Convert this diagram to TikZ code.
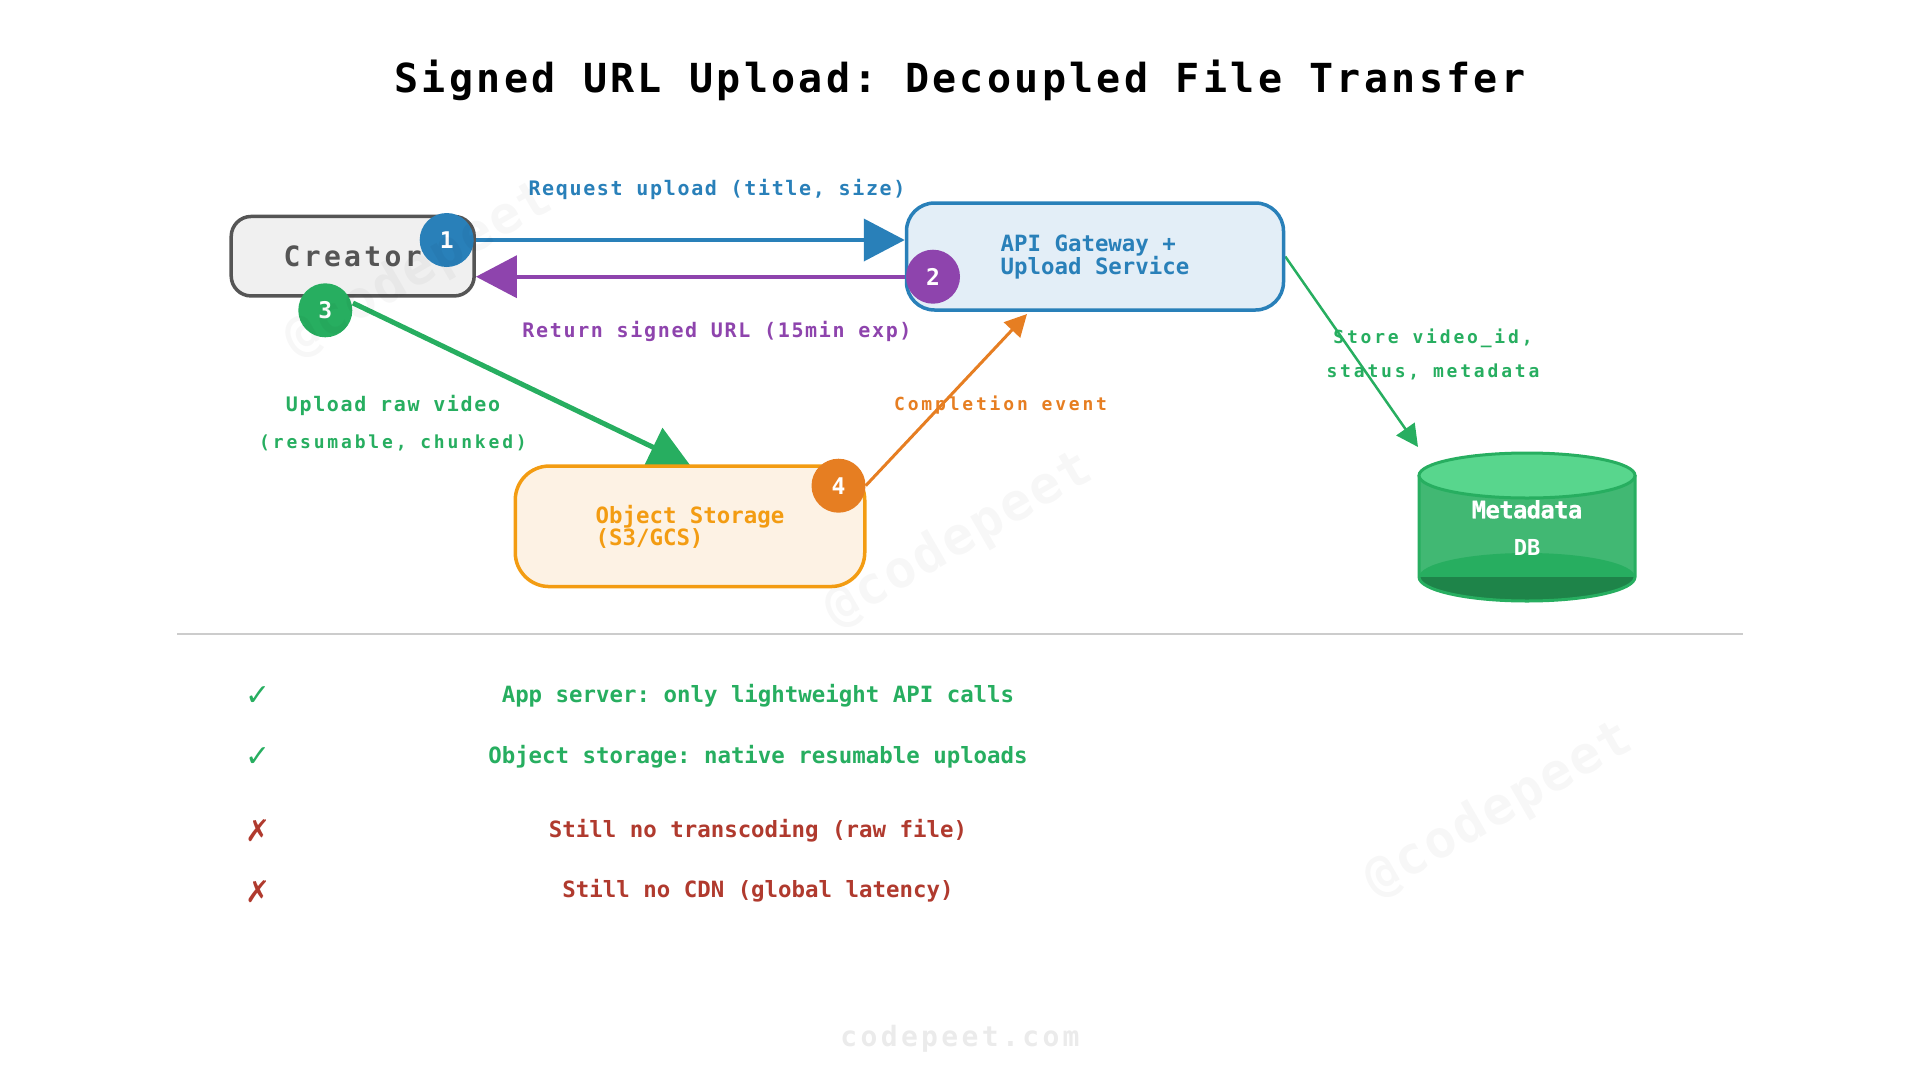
\documentclass[tikz,border=0pt]{standalone}
\usepackage{fontspec}
\usetikzlibrary{arrows.meta}
\frenchspacing
\newfontfamily\dmono{DejaVu Sans Mono}
\newfontfamily\dsans{DejaVu Sans}
\newcommand{\ftb}[3]{\dmono\bfseries\fontsize{#1}{#2}\selectfont\addfontfeature{LetterSpace=#3}\frenchspacing}
\definecolor{cblue}{HTML}{2980B9}
\definecolor{cpurple}{HTML}{8E44AD}
\definecolor{cgreen}{HTML}{27AE60}
\definecolor{corange}{HTML}{E67E22}
\definecolor{cyellow}{HTML}{F39C12}
\definecolor{cred}{HTML}{B03A2E}
\definecolor{cgrey}{HTML}{555555}
\definecolor{dbbody}{HTML}{41B873}
\definecolor{dbtop}{HTML}{58D68D}
\definecolor{dbdark}{HTML}{1E8449}
\definecolor{apifill}{HTML}{E3EEF7}
\definecolor{objfill}{HTML}{FDF2E4}
\pgfdeclarelayer{back}
\pgfsetlayers{back,main}
\tikzset{
  box/.style={draw,rounded corners=#1,inner sep=0pt,line width=3.5pt},
  badge/.style={circle,minimum size=54pt,inner sep=0pt,text=white,font=\ftb{23}{23}{0}},
  lab/.style={anchor=base,inner sep=0pt,font=\ftb{20}{20}{8.3}},
  labs/.style={anchor=base,inner sep=0pt,font=\ftb{18}{18}{15.7}},
  rowtext/.style={anchor=base,inner sep=0pt,font=\ftb{22.4}{22.4}{0}},
  tickmark/.style={inner sep=0pt,font=\dsans\fontsize{30}{30}\selectfont},
  boxtext/.style={inner sep=0pt,align=left,font=\ftb{22.4}{19}{0}},
  wmark/.style={inner sep=0pt,rotate=30,text=black,text opacity=0.03,font=\ftb{52}{52}{4.4}},
  bigarrow/.style={-{Triangle[length=41pt,width=42pt]},line width=4pt},
  bigarrowg/.style={-{Triangle[length=41pt,width=42pt]},line width=5pt},
  smallarrow/.style={-{Triangle[length=22pt,width=22pt]}},
}
\begin{document}
\begin{tikzpicture}[x=1pt,y=-1pt]
\useasboundingbox (0,0) rectangle (1920,1080);
% title
\node[anchor=base,inner sep=0pt,font=\ftb{40}{40}{8.3}] (title) at (960,92.7) {Signed URL Upload: Decoupled File Transfer};
% boxes
\node[box=20pt,draw=cgrey,fill=black!6,minimum width=243pt,minimum height=79.5pt] (creator) at (352.7,256.2) {};
\node[anchor=base,inner sep=0pt,text=cgrey,font=\ftb{28}{28}{12}] (creatort) at (352.7,266.7) {Creator};
\node[box=28pt,draw=cblue,fill=apifill,minimum width=377pt,minimum height=107pt] (api) at (1095,256.5) {};
\node[boxtext,text=cblue] (apit) at (1095,257) {API Gateway +\\Upload Service};
\node[box=34pt,draw=cyellow,fill=objfill,minimum width=349.5pt,minimum height=120.5pt] (obj) at (690,526.3) {};
\node[boxtext,text=cyellow] (objt) at (690,527) {Object Storage\\(S3/GCS)};
% badges
\node[badge,fill=cblue] (n1) at (446.7,240) {1};
\node[badge,fill=cpurple] (n2) at (933,276.7) {2};
\node[badge,fill=cgreen] (n3) at (325.3,310.3) {3};
\node[badge,fill=corange] (n4) at (838.5,485.7) {4};
% database
\fill[dbbody] (1419,475) -- (1419,577) arc[start angle=180,end angle=360,x radius=108pt,y radius=24pt] -- (1635,475) -- cycle;
\fill[cgreen] (1527,577) ellipse[x radius=108pt,y radius=24pt];
\begin{scope}
\clip (1418,577) rectangle (1636,610);
\fill[dbdark] (1527,577) ellipse[x radius=108pt,y radius=24pt];
\end{scope}
\draw[cgreen,line width=3pt] (1419,475) -- (1419,577) arc[start angle=180,end angle=360,x radius=108pt,y radius=24pt] -- (1635,475);
\draw[cgreen,line width=3pt,fill=dbtop] (1527,475.5) ellipse[x radius=108pt,y radius=22.5pt];
\node[anchor=base,inner sep=0pt,text=white,font=\ftb{24}{24}{-3}\addfontfeature{FakeBold=0.6}] (dbt) at (1527,518.3) {Metadata};
\node[anchor=base,inner sep=0pt,text=white,font=\ftb{22}{22}{0}] (dbs) at (1527,555) {DB};
% anchors of free connector ends
\coordinate (s3) at (353,303);
\coordinate (e3) at (690,465);
\coordinate (e4) at (1027,314);
\coordinate (e5) at (1418,447);
% connectors
\begin{pgfonlayer}{back}
\draw[bigarrow,cblue] (n1) -- (n1 -| api.west);
\draw[bigarrow,cpurple] (n2) -- (n2 -| creator.east);
\draw[bigarrowg,cgreen] (s3) -- (e3);
\draw[smallarrow,corange,line width=3pt] (n4.east) -- (e4);
\draw[smallarrow,cgreen,line width=2.5pt] (api.east) -- (e5);
\end{pgfonlayer}
% labels
\node[lab,text=cblue] (l1) at (717,195) {Request upload (title, size)};
\node[lab,text=cpurple] (l2) at (717,337.7) {Return signed URL (15min exp)};
\node[lab,text=cgreen] (l3) at (393,411) {Upload raw video};
\node[labs,text=cgreen] (l3b) at (393,448) {(resumable, chunked)};
\node[labs,text=corange] (l4) at (1000.6,410.7) {Completion event};
\node[labs,text=cgreen] (l5) at (1433,343.3) {Store video\_id,};
\node[labs,text=cgreen] (l5b) at (1433,377.3) {status, metadata};
% divider
\coordinate (d1) at (177,634.3);
\coordinate (d2) at (1743,634.3);
\draw[black!20,line width=2pt] (d1) -- (d2);
% list
\node[tickmark,text=cgreen] (m1) at (258,696.5) {✓};
\node[tickmark,text=cgreen] (m2) at (258,757.5) {✓};
\node[tickmark,text=cred] (m3) at (258,830.5) {✗};
\node[tickmark,text=cred] (m4) at (258,891.5) {✗};
\node[rowtext,text=cgreen] (r1) at (758,702.7) {App server: only lightweight API calls};
\node[rowtext,text=cgreen] (r2) at (758,763.3) {Object storage: native resumable uploads};
\node[rowtext,text=cred] (r3) at (758,837.3) {Still no transcoding (raw file)};
\node[rowtext,text=cred] (r4) at (758,897.7) {Still no CDN (global latency)};
% footer
\node[anchor=base,inner sep=0pt,text=black!8,font=\ftb{28}{28}{12}] (foot) at (960,1046) {codepeet.com};
% watermarks
\node[wmark] (w1) at (419,270) {@codepeet};
\node[wmark] (w2) at (959,540) {@codepeet};
\node[wmark] (w3) at (1499,810) {@codepeet};
\end{tikzpicture}
\end{document}
